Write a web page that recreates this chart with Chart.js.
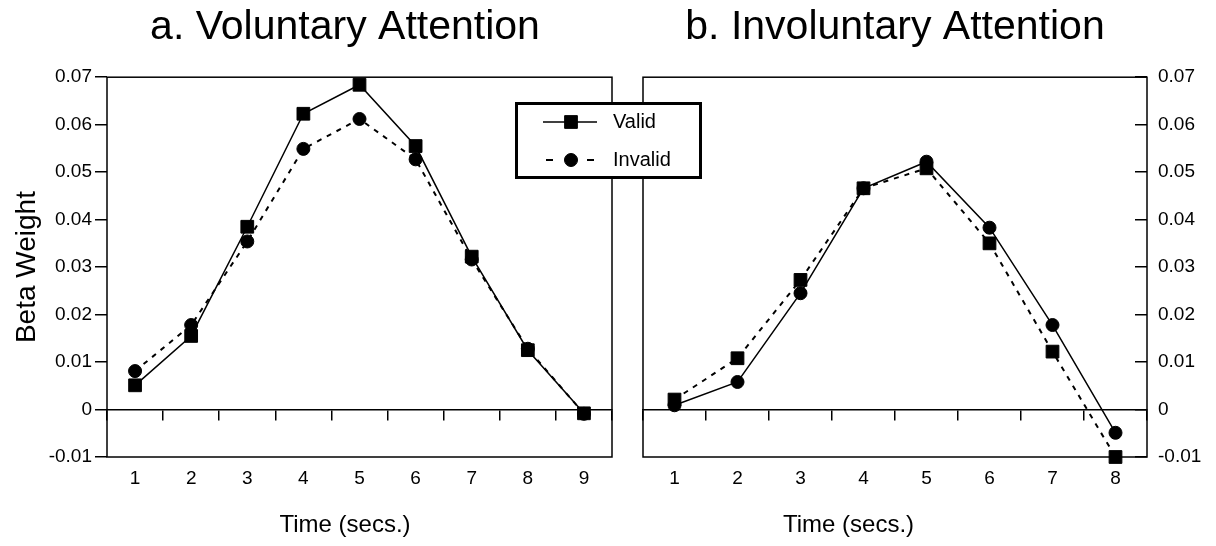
<!DOCTYPE html>
<html>
<head>
<meta charset="utf-8">
<title>Beta weights over time</title>
<script src="https://cdn.jsdelivr.net/npm/chart.js@4/dist/chart.umd.min.js"></script>
<style>
  html, body { margin: 0; background: #fff; }
  #wrap { position: relative; width: 1216px; height: 546px; }
  #wrap canvas { position: absolute; left: 0; top: 0; }
</style>
</head>
<body>
<div id="wrap">
  <canvas id="panelA" width="1216" height="546"></canvas>
  <canvas id="panelB" width="1216" height="546"></canvas>
</div>
<script>
// Panel a: voluntary attention
const timesA = ['1', '2', '3', '4', '5', '6', '7', '8', '9'];
const validA = [0.0051, 0.0155, 0.0385, 0.0623, 0.0684, 0.0555, 0.0322, 0.0125, -0.0008];
const invalidA = [0.0081, 0.0178, 0.0354, 0.0549, 0.0612, 0.0527, 0.0316, 0.0128, -0.0009];

// Panel b: involuntary attention
const timesB = ['1', '2', '3', '4', '5', '6', '7', '8'];
const validB = [0.0021, 0.0108, 0.0273, 0.0466, 0.0508, 0.0350, 0.0122, -0.0100];
const invalidB = [0.0009, 0.0058, 0.0245, 0.0466, 0.0522, 0.0383, 0.0178, -0.0049];

const yTicks = [-0.01, 0, 0.01, 0.02, 0.03, 0.04, 0.05, 0.06, 0.07];

const ink = '#000';
Chart.defaults.font.family = "'Liberation Sans', Arial, Helvetica, sans-serif";
Chart.defaults.color = ink;

const solid = { borderColor: ink, borderWidth: 1.5, borderDash: [] };
const dashed = { borderColor: ink, borderWidth: 2, borderDash: [5, 6] };
const square = { pointStyle: 'rect', pointRadius: 9, pointBackgroundColor: ink, pointBorderColor: ink, pointBorderWidth: 1 };
const dot = { pointStyle: 'circle', pointRadius: 6.5, pointBackgroundColor: ink, pointBorderColor: ink, pointBorderWidth: 1 };

const fmt = v => (v === 0 ? '0' : v.toFixed(2));

// box around the plotting area
const frame = {
  id: 'frame',
  beforeDatasetsDraw(chart) {
    const { ctx, chartArea: a } = chart;
    ctx.save();
    ctx.strokeStyle = ink;
    ctx.lineWidth = 1.5;
    ctx.strokeRect(a.left, a.top, a.right - a.left, a.bottom - a.top);
    ctx.restore();
  }
};

function xScales(height) {
  return {
    x: {
      type: 'category', position: 'bottom', offset: true,
      grid: { display: false, drawTicks: false }, border: { display: false },
      ticks: { padding: 10, font: { size: 19 }, color: ink, maxRotation: 0, autoSkip: false },
      afterFit(s) { s.height = height; }
    },
    // zero line with tick marks between the time points
    xZero: {
      type: 'category', axis: 'x', position: { y: 0 }, offset: true,
      grid: { offset: true, drawOnChartArea: false, drawTicks: true, tickLength: 10, color: ink, lineWidth: 1.5 },
      ticks: { display: false },
      border: { display: true, color: ink, width: 1.5 }
    }
  };
}

function baseY() {
  return {
    min: -0.01, max: 0.07,
    afterBuildTicks(s) { s.ticks = yTicks.map(v => ({ value: v })); },
    border: { display: false }
  };
}

const titleFont = { size: 41, weight: 'normal' };
const axisTitleFont = { size: 24, weight: 'normal' };

const chartA = new Chart(document.getElementById('panelA'), {
  type: 'line',
  data: {
    labels: timesA,
    datasets: [
      { label: 'Valid', data: validA, xAxisID: 'x', yAxisID: 'y', clip: false, ...solid, ...square },
      { label: 'Invalid', data: invalidA, xAxisID: 'x', yAxisID: 'y', clip: false, ...dashed, ...dot }
    ]
  },
  options: {
    responsive: false,
    devicePixelRatio: 1,
    animation: false,
    events: [],
    layout: { padding: { left: 0, right: 526, top: 0, bottom: 0 } },
    elements: { line: { tension: 0 } },
    scales: {
      ...xScales(54.2),
      y: {
        ...baseY(),
        position: 'left',
        ticks: { padding: 3, font: { size: 19 }, color: ink, callback: fmt },
        grid: { drawOnChartArea: false, tickLength: 12, color: ink, lineWidth: 1.5 },
        title: { display: true, text: 'Beta Weight', font: { size: 28 }, color: ink, padding: { top: 10, bottom: 0 } },
        afterFit(s) { s.width = 107; }
      },
      yPad: {
        position: 'right',
        grid: { display: false }, ticks: { display: false }, border: { display: false },
        afterFit(s) { s.width = 78; }
      }
    },
    plugins: {
      legend: { display: false },
      tooltip: { enabled: false },
      title: { display: true, text: 'a. Voluntary Attention', font: titleFont, color: ink, padding: { top: 3, bottom: 25 } },
      subtitle: { display: true, position: 'bottom', text: 'Time (secs.)', font: axisTitleFont, color: ink, padding: { top: 0, bottom: 6 } }
    }
  },
  plugins: [frame]
});

// legend box shared by both panels, styled from panel a's series
const legendBox = {
  id: 'legendBox',
  afterDraw(chart) {
    const ctx = chart.ctx;
    const bx = 516.5, by = 103.5, bw = 184, bh = 74;
    ctx.save();
    ctx.fillStyle = '#fff';
    ctx.fillRect(bx, by, bw, bh);
    ctx.lineWidth = 3;
    ctx.strokeStyle = ink;
    ctx.strokeRect(bx, by, bw, bh);

    chartA.data.datasets.forEach((ds, i) => {
      const y = 122 + i * 38;
      ctx.strokeStyle = ds.borderColor;
      ctx.lineWidth = ds.borderWidth;
      ctx.beginPath();
      if (ds.borderDash.length) {
        ctx.setLineDash([7, 34]);
        ctx.moveTo(546, y);
        ctx.lineTo(594, y);
      } else {
        ctx.setLineDash([]);
        ctx.moveTo(543, y);
        ctx.lineTo(597, y);
      }
      ctx.stroke();
      ctx.setLineDash([]);

      ctx.fillStyle = ds.pointBackgroundColor;
      ctx.strokeStyle = ds.pointBorderColor;
      ctx.lineWidth = ds.pointBorderWidth;
      Chart.helpers.drawPoint(ctx, {
        pointStyle: ds.pointStyle, radius: ds.pointRadius, rotation: 0, borderWidth: ds.pointBorderWidth
      }, 571, y);

      ctx.fillStyle = ink;
      ctx.font = "20px 'Liberation Sans', Arial, sans-serif";
      ctx.textAlign = 'left';
      ctx.textBaseline = 'middle';
      ctx.fillText(ds.label, 613, y);
    });
    ctx.restore();
  }
};

new Chart(document.getElementById('panelB'), {
  type: 'line',
  data: {
    labels: timesB,
    datasets: [
      { label: 'Valid', data: validB, xAxisID: 'x', yAxisID: 'y', clip: false, ...dashed, ...square },
      { label: 'Invalid', data: invalidB, xAxisID: 'x', yAxisID: 'y', clip: false, ...solid, ...dot }
    ]
  },
  options: {
    responsive: false,
    devicePixelRatio: 1,
    animation: false,
    events: [],
    layout: { padding: { left: 481, right: 0, top: 0, bottom: 0 } },
    elements: { line: { tension: 0 } },
    scales: {
      ...xScales(54.2),
      y: {
        ...baseY(),
        position: 'right',
        ticks: { padding: 23, font: { size: 19 }, color: ink, callback: fmt },
        grid: { drawOnChartArea: false, tickLength: -12, color: ink, lineWidth: 1.5 },
        afterFit(s) { s.width = 69; }
      },
      yPad: {
        position: 'left',
        grid: { display: false }, ticks: { display: false }, border: { display: false },
        afterFit(s) { s.width = 162; }
      }
    },
    plugins: {
      legend: { display: false },
      tooltip: { enabled: false },
      title: { display: true, fullSize: false, text: 'b. Involuntary Attention', font: titleFont, color: ink, padding: { top: 3, bottom: 25 } },
      subtitle: { display: true, position: 'bottom', text: 'Time (secs.)', font: axisTitleFont, color: ink, padding: { top: 0, bottom: 6 } }
    }
  },
  plugins: [frame, legendBox]
});
</script>
</body>
</html>
